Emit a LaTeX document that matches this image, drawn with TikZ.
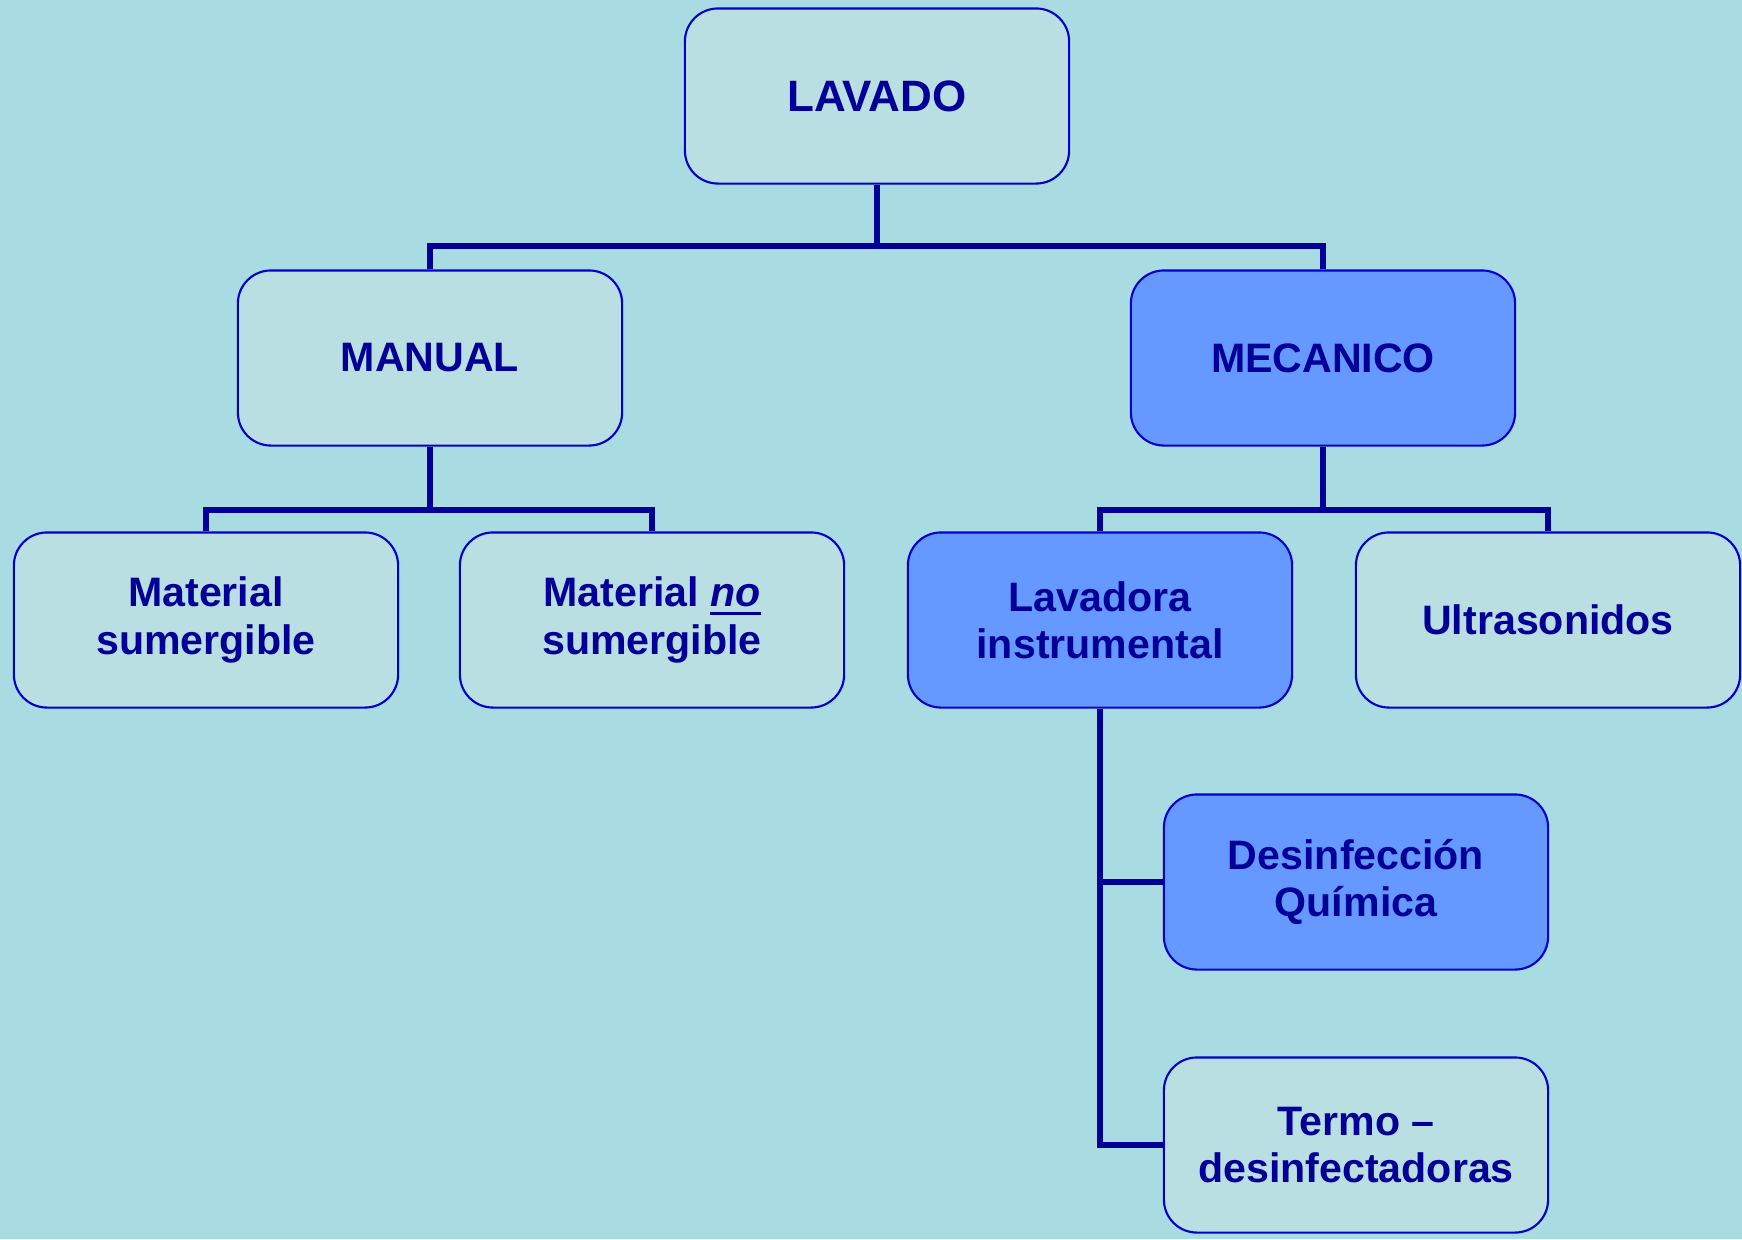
\documentclass[tikz,border=0pt]{standalone}
\usepackage{fontspec}
\setmainfont{Liberation Sans}
\usepackage{tikz}

\definecolor{navy}{HTML}{000099}
\definecolor{edgeblue}{HTML}{0000CC}
\definecolor{palebox}{HTML}{BADFE2}
\definecolor{darkbox}{HTML}{6699FF}
\definecolor{water}{HTML}{A8DBE2}

% subrayado grueso
\newcommand{\thickul}[1]{\setbox0\hbox{#1}\rlap{\rule[-2.4pt]{\wd0}{1.1pt}}\box0}

\tikzset{
  box/.style={draw=edgeblue, line width=0.6pt, rounded corners=0.33cm,
    minimum width=3.84cm, minimum height=1.75cm, align=center,
    text=navy, font=\fontsize{11.7}{13.4}\selectfont\bfseries},
  palebox/.style={box, fill=palebox},
  bluebox/.style={box, fill=darkbox},
  link/.style={draw=navy, line width=1.7pt},
}

\begin{document}
\begin{tikzpicture}[x=0.01cm,y=-0.01cm]
  \fill [water] (0,0) rectangle (1742,1239);
  \useasboundingbox (0,0) rectangle (1742,1239);
  % niveles del arbol
  \node [palebox, font=\fontsize{12.5}{14}\selectfont\bfseries] (lavado) at (877,96) {LAVADO};
  \node [palebox] (manual) at (430,358) {MANUAL};
  \node [bluebox] (mecanico) at (1323,358) {MECANICO};
  \node [palebox] (sumer) at (206,620) {Material\\sumergible};
  \node [palebox] (nosumer) at (652,620) {Material \thickul{\textit{no}}\\sumergible};
  \node [bluebox] (lavadora) at (1100,620) {Lavadora\\instrumental};
  \node [palebox] (ultra) at (1548,620) {Ultrasonidos};
  \node [bluebox] (desinf) at (1356,882) {Desinfección\\Química};
  \node [palebox] (termo) at (1356,1145) {Termo --\\desinfectadoras};
  % conectores
  \coordinate (j0) at (877,246);
  \coordinate (j1) at (430,510);
  \coordinate (j2) at (1323,510);
  \draw [link] (lavado.south) -- (j0);
  \draw [link] (manual.north) |- (j0) -| (mecanico.north);
  \draw [link] (manual.south) -- (j1);
  \draw [link] (sumer.north) |- (j1) -| (nosumer.north);
  \draw [link] (mecanico.south) -- (j2);
  \draw [link] (lavadora.north) |- (j2) -| (ultra.north);
  \draw [link] (lavadora.south) |- (termo.west);
  \draw [link] (lavadora.south |- desinf.west) -- (desinf.west);
\end{tikzpicture}
\end{document}
